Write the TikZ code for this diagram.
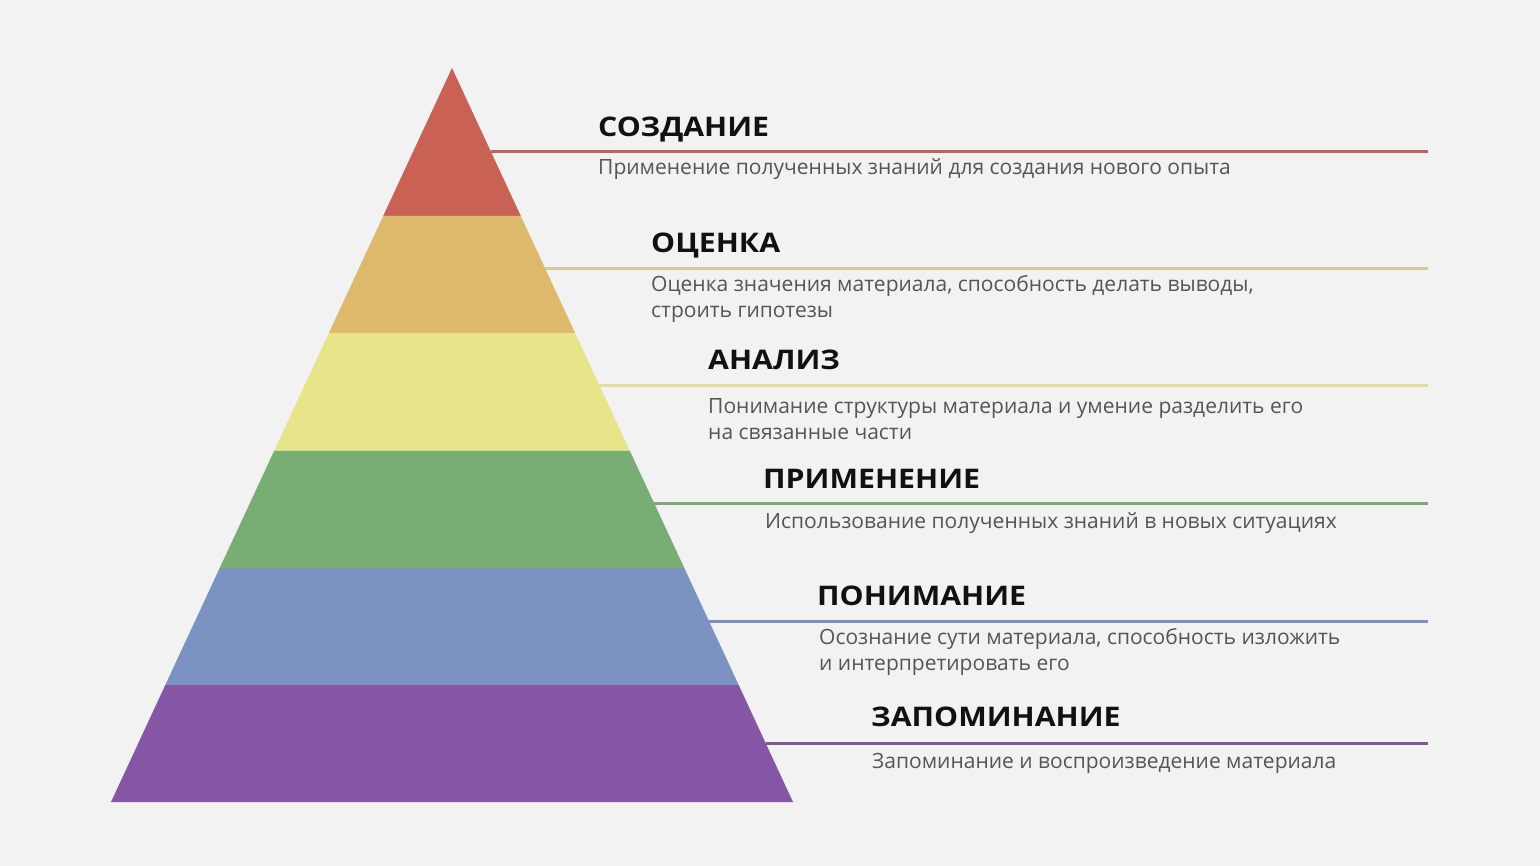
\documentclass[tikz,border=0pt]{standalone}
\usepackage{fontspec}
\setmainfont{Open Sans}
\newfontfamily\titlefont{Open Sans}[FakeStretch=1.12]
\definecolor{bg}{HTML}{F2F2F2}
\definecolor{cR}{HTML}{C96255}
\definecolor{cO}{HTML}{DDB96B}
\definecolor{cY}{HTML}{E8E48A}
\definecolor{cG}{HTML}{78AD74}
\definecolor{cB}{HTML}{7B92C3}
\definecolor{cP}{HTML}{8656A6}
\definecolor{lR}{HTML}{B8655A}
\definecolor{lO}{HTML}{D6C89C}
\definecolor{lY}{HTML}{E0DDA0}
\definecolor{lG}{HTML}{7DAA74}
\definecolor{lB}{HTML}{7C8DBE}
\definecolor{lP}{HTML}{7D5A90}
\definecolor{txt}{HTML}{111111}
\definecolor{dsc}{HTML}{555555}
\begin{document}
\begin{tikzpicture}[x=1pt,y=-1pt,
  title/.style={anchor=base west,inner sep=0pt,text=txt,font=\titlefont\fontsize{27}{30}\selectfont\bfseries},
  desc/.style={anchor=base west,inner sep=0pt,text=dsc,align=left,font=\fontsize{21}{26}\selectfont},
  rule/.style={line width=3pt}]
\fill[bg] (0,0) rectangle (1540,866);
\useasboundingbox (0,0) rectangle (1540,866);
% bands
\fill[cR] (452,68) -- (520.8,216) -- (383.2,216) -- cycle;
\fill[cO] (383.2,216) -- (520.8,216) -- (575.1,333) -- (328.9,333) -- cycle;
\fill[cY] (328.9,333) -- (575.1,333) -- (629.9,451) -- (274.1,451) -- cycle;
\fill[cG] (274.1,451) -- (629.9,451) -- (684.3,568) -- (219.7,568) -- cycle;
\fill[cB] (219.7,568) -- (684.3,568) -- (738.7,685) -- (165.3,685) -- cycle;
\fill[cP] (165.3,685) -- (738.7,685) -- (793,802) -- (111,802) -- cycle;
% rules
\coordinate (s1) at (491,152);   \coordinate (e1) at (1428,152);
\coordinate (s2) at (545.4,269); \coordinate (e2) at (1428,269);
\coordinate (s3) at (599.7,386); \coordinate (e3) at (1428,386);
\coordinate (s4) at (654.1,503); \coordinate (e4) at (1428,503);
\coordinate (s5) at (708.9,621); \coordinate (e5) at (1428,621);
\coordinate (s6) at (765.6,743); \coordinate (e6) at (1428,743);
\draw[rule,lR] (s1) -- (e1);
\draw[rule,lO] (s2) -- (e2);
\draw[rule,lY] (s3) -- (e3);
\draw[rule,lG] (s4) -- (e4);
\draw[rule,lB] (s5) -- (e5);
\draw[rule,lP] (s6) -- (e6);
% titles
\node[title] (t1) at (598,137) {СОЗДАНИЕ};
\node[title] (t2) at (651,253) {ОЦЕНКА};
\node[title] (t3) at (708,370) {АНАЛИЗ};
\node[title] (t4) at (763,489) {ПРИМЕНЕНИЕ};
\node[title] (t5) at (817,605) {ПОНИМАНИЕ};
\node[title] (t6) at (871,726) {ЗАПОМИНАНИЕ};
% descriptions
\node[desc] (d1) at (598,175) {Применение полученных знаний для создания нового опыта};
\node[desc] (d2) at (651,318) {Оценка значения материала, способность делать выводы,\\строить гипотезы};
\node[desc] (d3) at (708,439) {Понимание структуры материала и умение разделить его\\на связанные части};
\node[desc] (d4) at (765,528) {Использование полученных знаний в новых ситуациях};
\node[desc] (d5) at (819,670) {Осознание сути материала, способность изложить\\и интерпретировать его};
\node[desc] (d6) at (872,768) {Запоминание и воспроизведение материала};
\end{tikzpicture}
\end{document}
